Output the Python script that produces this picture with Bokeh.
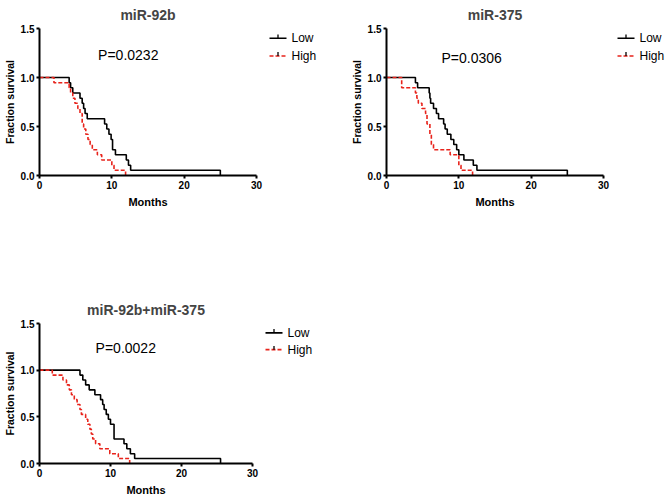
from bokeh.plotting import figure
from bokeh.models import Range1d, FixedTicker, Spacer
from bokeh.layouts import column, row
from bokeh.embed import file_html
from bokeh.resources import INLINE

# ---- data ----
titles = ["miR-92b", "miR-375", "miR-92b+miR-375"]
p_values = ["P=0.0232", "P=0.0306", "P=0.0022"]
p_pos_x = [8.1, 7.6, 7.9]
p_pos_y = [1.23, 1.20, 1.235]
legend_labels = ["Low", "High"]
legend_y = [1.40, 1.22]
x_ticks = [0, 10, 20, 30]
y_ticks = [0.0, 0.5, 1.0, 1.5]

low1_t = [0, 4.1, 4.3, 4.6, 5.6, 5.9, 6.1, 6.3, 6.6, 9.0, 9.3, 9.6, 9.9, 10.1, 10.5, 12.0, 12.3, 12.6, 25.0]
low1_s = [1.0, 0.947, 0.895, 0.842, 0.789, 0.737, 0.684, 0.632, 0.579, 0.526, 0.474, 0.421, 0.368, 0.263, 0.211, 0.158, 0.105, 0.053, 0.0]
high1_t = [0, 2.0, 4.1, 4.3, 4.6, 4.9, 5.3, 5.6, 5.9, 6.1, 6.4, 6.7, 7.0, 7.3, 8.0, 8.6, 10.0, 10.3, 11.9]
high1_s = [1.0, 0.947, 0.895, 0.842, 0.789, 0.737, 0.684, 0.632, 0.526, 0.474, 0.421, 0.368, 0.316, 0.263, 0.211, 0.158, 0.105, 0.053, 0.0]

low2_t = [0, 4.0, 4.3, 5.9, 6.0, 6.1, 6.5, 6.9, 7.2, 7.9, 8.1, 8.4, 8.9, 9.3, 9.7, 10.0, 10.7, 12.0, 12.5, 25.0]
low2_s = [1.0, 0.947, 0.895, 0.842, 0.789, 0.737, 0.684, 0.632, 0.579, 0.526, 0.474, 0.421, 0.368, 0.316, 0.263, 0.211, 0.158, 0.105, 0.053, 0.0]
high2_t = [0, 2.1, 4.0, 4.2, 4.4, 4.9, 5.4, 5.6, 6.0, 6.2, 6.5, 8.8, 10.0, 10.3, 11.9]
high2_s = [1.0, 0.895, 0.842, 0.789, 0.737, 0.684, 0.632, 0.526, 0.421, 0.316, 0.263, 0.211, 0.105, 0.053, 0.0]

low3_t = [0, 5.7, 6.1, 6.5, 7.0, 7.8, 8.6, 8.9, 9.1, 9.4, 9.7, 10.0, 10.5, 11.9, 12.3, 12.8, 13.4, 25.5]
low3_s = [1.0, 0.947, 0.895, 0.842, 0.789, 0.737, 0.684, 0.632, 0.579, 0.526, 0.474, 0.421, 0.263, 0.211, 0.158, 0.105, 0.053, 0.0]
high3_t = [0, 1.8, 3.3, 3.8, 4.2, 4.5, 4.9, 5.3, 5.7, 5.9, 6.5, 6.8, 7.1, 7.3, 7.5, 7.9, 8.5, 9.9, 11.1, 12.7]
high3_s = [1.0, 0.947, 0.895, 0.842, 0.789, 0.737, 0.684, 0.632, 0.579, 0.526, 0.474, 0.421, 0.368, 0.316, 0.263, 0.211, 0.158, 0.105, 0.053, 0.0]

FONT = "Liberation Sans"
LOW_COLOR = "black"
HIGH_COLOR = "#e8231b"
HIGH_DASH = "4 2"


def make_panel(title, pval, px, py, lt, ls, ht, hs, w, h, left, right, top, bottom, tstand):
    p = figure(width=w, height=h, min_border_left=left, min_border_right=right,
               min_border_top=top, min_border_bottom=bottom,
               x_range=Range1d(0, 30), y_range=Range1d(0, 1.5),
               output_backend="svg", toolbar_location=None, title=title)
    p.outline_line_color = None
    p.xgrid.visible = False
    p.ygrid.visible = False
    p.title.text_font = FONT
    p.title.text_font_size = "14px"
    p.title.text_font_style = "bold"
    p.title.align = "center"
    p.title.vertical_align = "top"
    p.title.standoff = tstand
    p.xaxis.ticker = FixedTicker(ticks=x_ticks)
    p.yaxis.ticker = FixedTicker(ticks=y_ticks)
    p.yaxis.major_label_overrides = {v: f"{v:.1f}" for v in y_ticks}
    for ax in (p.xaxis[0], p.yaxis[0]):
        ax.axis_line_width = 2
        ax.axis_line_color = "black"
        ax.major_tick_line_width = 2
        ax.major_tick_out = 3
        ax.major_tick_in = 0
        ax.minor_tick_line_color = None
        ax.major_label_text_font = FONT
        ax.major_label_text_font_style = "bold"
        ax.major_label_text_font_size = "10px"
        ax.major_label_text_color = "black"
        ax.major_label_standoff = 2
        ax.axis_label_text_font = FONT
        ax.axis_label_text_font_style = "bold"
        ax.axis_label_text_color = "black"
        ax.axis_label_standoff = 2
    p.xaxis.axis_label = "Months"
    p.xaxis.axis_label_text_font_size = "11px"
    p.xaxis.axis_label_standoff = 4
    p.yaxis.axis_label = "Fraction survival"
    p.yaxis.axis_label_text_font_size = "10.5px"

    p.step(lt, ls, mode="after", line_color=LOW_COLOR, line_width=1.6)
    p.step(ht, hs, mode="after", line_color=HIGH_COLOR, line_width=1.6, line_dash=HIGH_DASH)

    p.text(x=[px], y=[py], text=[pval], text_font_size="14px", text_baseline="middle",
           text_align="left", text_color="black", text_font={"value": FONT})
    return p


def make_legend(w, h, top, bottom, x0):
    # legend in a narrow figure: x range in pixels, y range shared scale with the panel
    q = figure(width=w, height=h, min_border_left=0, min_border_right=0,
               min_border_top=top, min_border_bottom=bottom,
               x_range=Range1d(0, w), y_range=Range1d(0, 1.5),
               x_axis_location=None, y_axis_location=None,
               output_backend="svg", toolbar_location=None)
    q.grid.visible = False
    q.outline_line_color = None
    gl = 17
    q.segment(x0=[x0], y0=[legend_y[0]], x1=[x0 + gl], y1=[legend_y[0]],
              line_color=LOW_COLOR, line_width=1.6)
    q.segment(x0=[x0], y0=[legend_y[1]], x1=[x0 + gl], y1=[legend_y[1]],
              line_color=HIGH_COLOR, line_width=1.6, line_dash=HIGH_DASH)
    q.segment(x0=[x0 + gl / 2] * 2, y0=legend_y, x1=[x0 + gl / 2] * 2,
              y1=[v + 0.04 for v in legend_y], line_color="black", line_width=1.3)
    q.text(x=[x0 + gl + 5] * 2, y=legend_y, text=legend_labels,
           text_font_size="12px", text_baseline="middle", text_align="left",
           text_color="black", text_font={"value": FONT})
    return q


p1 = make_panel(titles[0], p_values[0], p_pos_x[0], p_pos_y[0], low1_t, low1_s, high1_t, high1_s,
                266, 210, 33, 10, 28, 35, 8)
l1 = make_legend(64, 210, 28, 35, 3)
p2 = make_panel(titles[1], p_values[1], p_pos_x[1], p_pos_y[1], low2_t, low2_s, high2_t, high2_s,
                281, 210, 56, 8, 28, 35, 8)
l2 = make_legend(54, 210, 28, 35, 6)
p3 = make_panel(titles[2], p_values[2], p_pos_x[2], p_pos_y[2], low3_t, low3_s, high3_t, high3_s,
                262, 205, 35, 10, 30, 33, 8)
l3 = make_legend(80, 205, 30, 33, 3)

layout = column(row(p1, l1, p2, l2), Spacer(height=83), row(p3, l3))
open("out.html", "w").write(file_html(layout, INLINE))
